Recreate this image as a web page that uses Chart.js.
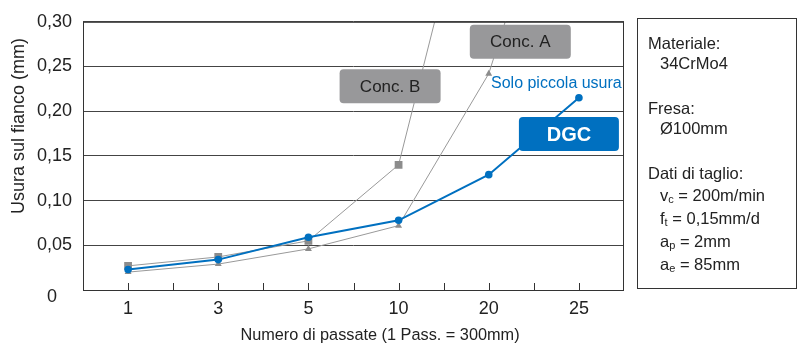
<!DOCTYPE html>
<html>
<head>
<meta charset="utf-8">
<script src="https://cdn.jsdelivr.net/npm/chart.js@4.4.1/dist/chart.umd.min.js"></script>
<style>
  html, body { margin:0; padding:0; background:#fff; }
  #wrap { position:relative; width:805px; height:343px; }
  #info {
    position:absolute; left:637px; top:18px; width:160px; height:271px;
    border:1px solid #333; box-sizing:border-box;
    font-family:"Liberation Sans", Arial, sans-serif; font-size:16.5px; color:#222;
    padding:14px 0 0 10px; line-height:20px;
  }
  #info .in { padding-left:12px; }
  #info .gap { height:25px; }
  #info sub { font-size:11px; vertical-align:-2px; line-height:0; }
</style>
</head>
<body>
<div id="wrap">
  <canvas id="chart" width="805" height="343"></canvas>
  <div id="info">
    <div>Materiale:</div>
    <div class="in">34CrMo4</div>
    <div class="gap"></div>
    <div>Fresa:</div>
    <div class="in">Ø100mm</div>
    <div class="gap"></div>
    <div>Dati di taglio:</div>
    <div class="in" style="margin-top:2px">v<sub>c</sub> = 200m/min</div>
    <div class="in" style="margin-top:3px">f<sub>t</sub> = 0,15mm/d</div>
    <div class="in" style="margin-top:3px">a<sub>p</sub> = 2mm</div>
    <div class="in" style="margin-top:2.5px">a<sub>e</sub> = 85mm</div>
  </div>
</div>
<script>
// Data
const passes = ['1', '3', '5', '10', '20', '25'];
const dgc   = [0.023, 0.034, 0.059, 0.078, 0.129, 0.215];
const concA = [0.020, 0.029, 0.046, 0.072, 0.242, 0.56];
const concB = [0.027, 0.037, 0.055, 0.140, 0.54, null];

const FONT = '"Liberation Sans", Arial, sans-serif';
const BLUE = '#0070c0';
const GRAY = '#999999';

// Labels on the plot (x = category index, y = value)
const notes = [
  { text:'Conc. A', x:4.35, y:0.2778, w:101, h:34, bg:'#98989a', color:'#222', font:'17px ' + FONT },
  { text:'Conc. B', x:2.906, y:0.2278, w:101, h:34, bg:'#98989a', color:'#222', font:'17px ' + FONT },
  { text:'DGC', x:4.889, y:0.1744, w:100, h:34, bg:BLUE, color:'#fff', font:'bold 20px ' + FONT },
  { text:'Solo piccola usura', x:4.75, y:0.232, color:BLUE, font:'16px ' + FONT }
];

// Frame, inside ticks, axis titles and labels
const extras = {
  id:'extras',
  afterDatasetsDraw(chart){
    const ctx = chart.ctx, a = chart.chartArea;
    const xs = chart.scales.x, ys = chart.scales.y;
    ctx.save();
    ctx.strokeStyle = '#333';
    ctx.lineWidth = 1;
    ctx.strokeRect(a.left + 0.5, a.top + 0.5, a.right - a.left - 1, a.bottom - a.top);
    // tick marks at category centres and boundaries
    ctx.beginPath();
    for (let i = 0; i < passes.length; i++) {
      for (const d of [0, 0.5]) {
        if (d && i === passes.length - 1) continue;
        const px = Math.round(xs.getPixelForValue(i + d)) + 0.5;
        ctx.moveTo(px, a.bottom);
        ctx.lineTo(px, a.bottom - 7);
      }
    }
    ctx.stroke();
    ctx.fillStyle = '#222';
    ctx.textAlign = 'center';
    // zero label sits a bit lower and centred
    ctx.font = '18px ' + FONT;
    ctx.textBaseline = 'middle';
    ctx.fillText('0', 52, ys.getPixelForValue(0) + 7);
    // x axis title
    ctx.font = '16.3px ' + FONT;
    ctx.textBaseline = 'alphabetic';
    ctx.fillText('Numero di passate (1 Pass. = 300mm)', 380, 340);
    // y axis title
    ctx.save();
    ctx.translate(19, 126);
    ctx.rotate(-Math.PI / 2);
    ctx.font = '18px ' + FONT;
    ctx.textBaseline = 'middle';
    ctx.fillText('Usura sul fianco (mm)', 0, 0);
    ctx.restore();
    // notes
    notes.forEach(n => {
      const cx = xs.getPixelForValue(n.x), cy = ys.getPixelForValue(n.y);
      if (n.w) {
        ctx.fillStyle = n.bg;
        ctx.beginPath();
        ctx.roundRect(cx - n.w / 2, cy - n.h / 2, n.w, n.h, 4);
        ctx.fill();
      }
      ctx.fillStyle = n.color;
      ctx.font = n.font;
      ctx.textAlign = 'center';
      ctx.textBaseline = 'middle';
      ctx.fillText(n.text, cx, cy + 1);
    });
    ctx.restore();
  }
};

new Chart(document.getElementById('chart'), {
  type:'line',
  data:{
    labels:passes,
    datasets:[
      { label:'DGC', data:dgc, borderColor:BLUE, backgroundColor:BLUE, borderWidth:2,
        pointStyle:'circle', pointRadius:3.8, pointBorderWidth:0, clip:0 },
      { label:'Conc. A', data:concA, borderColor:GRAY, backgroundColor:'#8c8c8c', borderWidth:1,
        pointStyle:'triangle', pointRadius:4, pointBorderWidth:0, clip:0 },
      { label:'Conc. B', data:concB, borderColor:GRAY, backgroundColor:'#8c8c8c', borderWidth:1,
        pointStyle:'rect', pointRadius:5.5, pointBorderWidth:0, clip:0 }
    ]
  },
  options:{
    responsive:false,
    animation:false,
    layout:{ padding:{ left:0, right:181, top:19, bottom:0 } },
    plugins:{ legend:{ display:false }, tooltip:{ enabled:false } },
    scales:{
      x:{
        offset:true,
        grid:{ display:false, drawTicks:false },
        border:{ display:false },
        ticks:{ color:'#222', font:{ family:FONT, size:18 }, padding:8, maxRotation:0 },
        afterFit(s){ s.height = 53; }
      },
      y:{
        min:0, max:0.3,
        ticks:{ stepSize:0.05, color:'#222', font:{ family:FONT, size:18 }, padding:11,
                callback:v => v === 0 ? '' : v.toFixed(2).replace('.', ',') },
        grid:{ color:'#444', drawTicks:false },
        border:{ display:false },
        afterFit(s){ s.width = 83; }
      }
    }
  },
  plugins:[extras]
});
</script>
</body>
</html>
